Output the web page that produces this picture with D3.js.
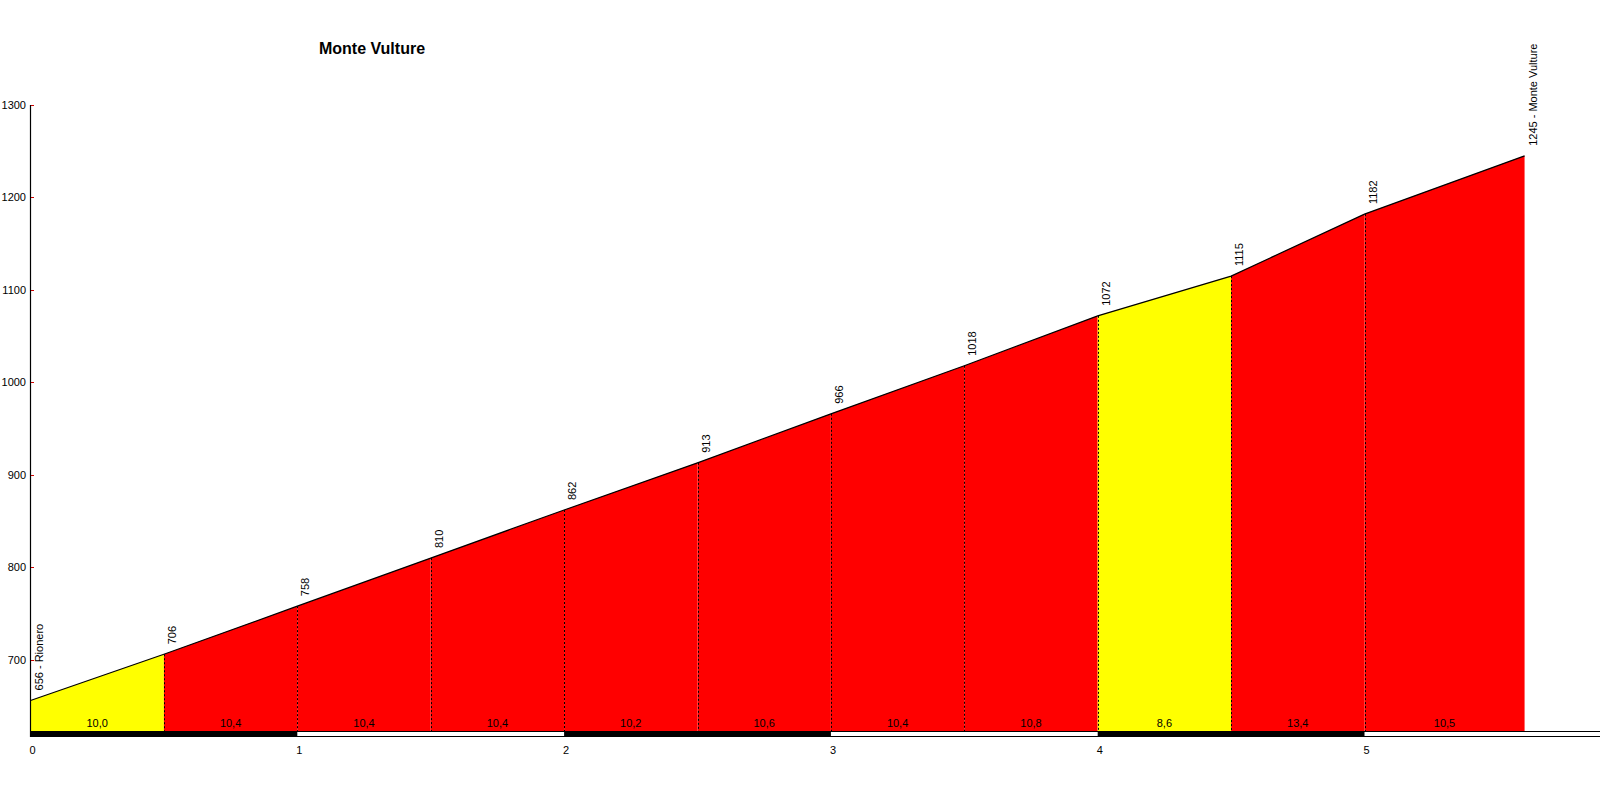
<!DOCTYPE html>
<html>
<head>
<meta charset="utf-8">
<script src="https://cdn.jsdelivr.net/npm/d3@7"></script>
<style>
html,body{margin:0;padding:0;background:#fff;}
svg{display:block;}
text{font-family:Arial,"Liberation Sans",sans-serif;fill:#000;}
</style>
</head>
<body>
<svg id="chart" width="1600" height="800"></svg>
<script>
const title = "Monte Vulture";
const distances = [0, 0.5, 1, 1.5, 2, 2.5, 3, 3.5, 4, 4.5, 5, 5.6];
const elevations = [656, 706, 758, 810, 862, 913, 966, 1018, 1072, 1115, 1182, 1245];
const placeNames = ["Rionero", "", "", "", "", "", "", "", "", "", "", "Monte Vulture"];
const gradients = [10.0, 10.4, 10.4, 10.4, 10.2, 10.6, 10.4, 10.8, 8.6, 13.4, 10.5];
const yTicks = [700, 800, 900, 1000, 1100, 1200, 1300];
const xTicks = [0, 1, 2, 3, 4, 5];

const svg = d3.select("#chart");
const x = d3.scaleLinear().domain([0, 5.6]).range([30.5, 30.5 + 5.6 * 266.8]);
const y = d3.scaleLinear().domain([623, 1300]).range([731, 105]);
const color = d3.scaleThreshold().domain([10.05]).range(["#FFFF00", "#FF0000"]);
const base = y(623);

// segments
const segs = gradients.map((g, i) => ({
  g, x0: distances[i], x1: distances[i + 1], e0: elevations[i], e1: elevations[i + 1]
}));
const area = d3.area().x(d => x(d[0])).y0(base).y1(d => y(d[1]));
svg.append("g").selectAll("path").data(segs).join("path")
  .attr("d", d => area([[d.x0, d.e0], [d.x1, d.e1]]))
  .attr("fill", d => color(d.g))
  .attr("stroke", "none");

// profile line
const line = d3.line().x((d, i) => x(distances[i])).y(d => y(d));
svg.append("path").attr("d", line(elevations))
  .attr("fill", "none").attr("stroke", "#000").attr("stroke-width", 1.2);

// dashed verticals
svg.append("g").selectAll("line").data(distances.slice(1, -1).map((d, i) => [d, elevations[i + 1]])).join("line")
  .attr("x1", d => Math.round(x(d[0])) + 0.5).attr("x2", d => Math.round(x(d[0])) + 0.5)
  .attr("y1", d => y(d[1])).attr("y2", base)
  .attr("stroke", "#000").attr("stroke-width", 1).attr("stroke-dasharray", "2,2");

// gradient labels
svg.append("g").selectAll("text").data(segs).join("text")
  .attr("x", d => x((d.x0 + d.x1) / 2)).attr("y", 727)
  .attr("text-anchor", "middle").attr("font-size", 11)
  .text(d => d3.format(".1f")(d.g).replace(".", ","));

// elevation labels
svg.append("g").selectAll("text").data(elevations.map((e, i) => ({ e, d: distances[i], n: placeNames[i] }))).join("text")
  .attr("transform", d => `translate(${x(d.d) + 12},${y(d.e) - 10}) rotate(-90)`)
  .attr("font-size", 11)
  .text(d => d.n ? `${d.e} - ${d.n}` : `${d.e}`);

// km bar
const kmSegs = xTicks.map(k => ({ k, x0: k, x1: Math.min(k + 1, 5.6) }));
svg.append("g").selectAll("rect").data(kmSegs.filter(d => d.k % 2 === 0)).join("rect")
  .attr("x", d => x(d.x0)).attr("width", d => x(d.x1) - x(d.x0))
  .attr("y", base).attr("height", 6).attr("fill", "#000");
svg.append("line").attr("x1", x(0)).attr("x2", 1600).attr("y1", base + 0.5).attr("y2", base + 0.5).attr("stroke", "#000");
svg.append("line").attr("x1", x(0)).attr("x2", 1600).attr("y1", base + 5.5).attr("y2", base + 5.5).attr("stroke", "#000");

// x tick labels
svg.append("g").selectAll("text").data(xTicks).join("text")
  .attr("x", d => x(d) - 1).attr("y", 754)
  .attr("font-size", 11)
  .text(d => d);

// y axis
svg.append("line").attr("x1", 30.5).attr("x2", 30.5).attr("y1", y(1300)).attr("y2", base + 6)
  .attr("stroke", "#000").attr("stroke-width", 1.2);
const yg = svg.append("g");
yg.selectAll("line").data(yTicks).join("line")
  .attr("x1", 31).attr("x2", 34).attr("y1", d => Math.round(y(d)) + 0.5).attr("y2", d => Math.round(y(d)) + 0.5)
  .attr("stroke", "#CC0000");
yg.selectAll("text").data(yTicks).join("text")
  .attr("x", 26).attr("y", d => y(d) + 4)
  .attr("text-anchor", "end").attr("font-size", 11)
  .text(d => d);

// title
svg.append("text").attr("x", 372).attr("y", 54).attr("text-anchor", "middle")
  .attr("font-size", 16).attr("font-weight", "bold").text(title);
</script>
</body>
</html>
